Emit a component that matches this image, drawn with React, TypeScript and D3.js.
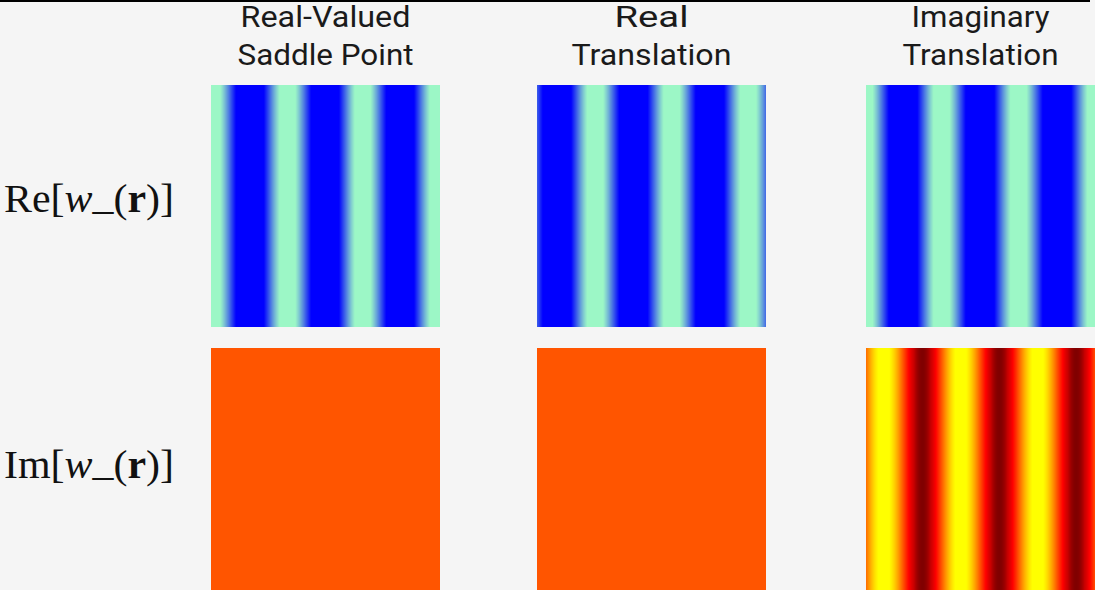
import React from 'react';
import * as d3 from 'd3';

const W = 1095;
const H = 590;

const columnTitles = [
  ['Real-Valued', 'Saddle Point'],
  ['Real', 'Translation'],
  ['Imaginary', 'Translation'],
];
const titleWidths = [
  [170, 176],
  [74, 160],
  [138, 156],
];
const rowLabels = ['Re', 'Im'];

// stripe parameters, in panel-width units
const wavelengths = [0.328, 0.334, 0.336];
const blueCentres = [0.17, 0.087, 0.162];
// amplitude of the imaginary part (0 = flat field)
const imAmplitude = [0, 0, 1.1];

const colX = [211, 537, 866];
const panelW = 229;
const rowY = [85, 348];
const panelH = 242;
const samples = 229;

const reColor = d3
  .scaleLinear<string>()
  .domain([-0.4, 0.8])
  .range(['#0000ff', '#9cf7c6'])
  .clamp(true);

const imColor = d3
  .scaleLinear<string>()
  .domain([-1.1, -0.85, -0.5, 1])
  .range(['#800000', '#c80000', '#ff0000', '#ffff00'])
  .clamp(true);

const Panel: React.FC<{ col: number; row: number }> = ({ col, row }) => {
  const x = d3
    .scaleLinear()
    .domain([0, samples])
    .range([colX[col], colX[col] + panelW]);
  const lam = wavelengths[col];
  const xb = blueCentres[col];
  const cells = d3.range(samples).map((i) => {
    const u = (i + 0.5) / samples;
    const v =
      row === 0
        ? -Math.cos((2 * Math.PI * (u - xb)) / lam)
        : imAmplitude[col] * Math.sin((2 * Math.PI * (xb - u)) / lam);
    return { i, fill: row === 0 ? reColor(v) : imColor(v + 0) };
  });
  return (
    <g shapeRendering="crispEdges">
      {cells.map((c) => (
        <rect
          key={c.i}
          x={Math.round(x(c.i))}
          y={rowY[row]}
          width={Math.round(x(c.i + 1)) - Math.round(x(c.i))}
          height={panelH}
          fill={c.fill}
        />
      ))}
    </g>
  );
};

const RowLabel: React.FC<{ name: string; y: number }> = ({ name, y }) => (
  <text
    x={4}
    y={y}
    fontFamily="'Liberation Serif', 'DejaVu Serif', serif"
    fontSize={39}
    fill="#111"
    textLength={170}
    lengthAdjust="spacingAndGlyphs"
  >
    {name}[
    <tspan fontStyle="italic">w</tspan>
    <tspan dy={-3}>_</tspan>
    <tspan dy={3}>(</tspan>
    <tspan fontWeight="bold">r</tspan>)]
  </text>
);

export default function App() {
  return (
    <svg
      width={W}
      height={H}
      style={{ position: 'absolute', left: 0, top: 0 }}
    >
      <rect x={0} y={0} width={W} height={H} fill="#f5f5f5" />
      <rect x={0} y={0} width={1090} height={2} fill="#000" />

      {columnTitles.map((lines, c) =>
        lines.map((t, k) => (
          <text
            key={`${c}-${k}`}
            x={colX[c] + panelW / 2 - titleWidths[c][k] / 2}
            y={27 + k * 38}
            fontFamily="Roboto, 'Liberation Sans', sans-serif"
            fontSize={30}
            fill="#1a1a1a"
            textLength={titleWidths[c][k]}
            lengthAdjust="spacingAndGlyphs"
          >
            {t}
          </text>
        ))
      )}

      {rowLabels.map((r, k) => (
        <RowLabel key={r} name={r} y={k === 0 ? 212 : 478} />
      ))}

      {[0, 1].map((row) =>
        columnTitles.map((_, col) => (
          <Panel key={`${row}-${col}`} col={col} row={row} />
        ))
      )}
    </svg>
  );
}
